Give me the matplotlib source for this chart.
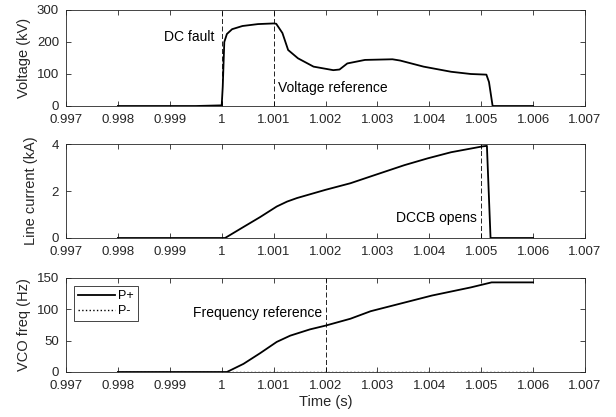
import numpy as np
import matplotlib.pyplot as plt

plt.rcParams['font.family'] = ['Liberation Sans', 'DejaVu Sans']
plt.rcParams['font.size'] = 9.5

# Voltage (kV)
t_v = [0.998, 0.9995, 1.0, 1.00002, 1.00005, 1.0001, 1.0002, 1.0004, 1.0007, 1.001, 1.00105,
       1.0011, 1.00117, 1.00128, 1.00147, 1.00177, 1.00215, 1.00227, 1.00242, 1.00276,
       1.00329, 1.00344, 1.00389, 1.00442, 1.0048, 1.0051, 1.00515, 1.00522, 1.006]
v = [0, 0, 2, 60, 200, 225, 240, 250, 256, 258, 257,
     245, 228, 175, 149, 123, 112, 114, 133, 144,
     146, 142, 123, 107, 100, 98, 75, 0, 0]

# Line current (kA)
t_i = [0.998, 0.9995, 1.000065, 1.00042, 1.00074, 1.00106, 1.00126, 1.00145, 1.002, 1.00248,
       1.00287, 1.00352, 1.00397, 1.00442, 1.00503, 1.00511, 1.00518, 1.006]
i_line = [0, 0, 0, 0.47, 0.89, 1.34, 1.55, 1.70, 2.05, 2.33,
          2.62, 3.1, 3.39, 3.65, 3.9, 3.92, 0, 0]

# VCO frequency (Hz)
t_f = [0.998, 1.0001, 1.00042, 1.00074, 1.00106, 1.00132, 1.0017, 1.002, 1.00248, 1.00287,
       1.00405, 1.0048, 1.0052, 1.006]
f_pos = [0, 0, 13, 30, 48, 58, 68, 74, 85, 97, 122, 135, 143, 143]
t_neg = [0.998, 1.006]
f_neg = [0, 0]

xticks = [0.997, 0.998, 0.999, 1.0, 1.001, 1.002, 1.003, 1.004, 1.005, 1.006, 1.007]
xticklabels = ['0.997', '0.998', '0.999', '1', '1.001', '1.002', '1.003', '1.004', '1.005', '1.006', '1.007']

gray = '#262626'
fig = plt.figure(figsize=(6.16, 4.17), dpi=100)
L, W = 66 / 616, (585 - 66) / 616
ax1 = fig.add_axes([L, 1 - 106 / 417, W, 96 / 417])
ax2 = fig.add_axes([L, 1 - 238 / 417, W, 94 / 417])
ax3 = fig.add_axes([L, 1 - 372 / 417, W, 94 / 417])

for ax in (ax1, ax2, ax3):
    ax.set_xlim(0.997, 1.007)
    ax.set_xticks(xticks)
    ax.set_xticklabels(xticklabels)
    ax.tick_params(direction='in', top=True, right=True, length=3.5, width=0.6,
                   colors=gray, labelsize=9.5)
    ax.tick_params(axis='x', pad=6)
    ax.tick_params(axis='y', pad=5)
    for s in ax.spines.values():
        s.set_color(gray)
        s.set_linewidth(0.6)

dash = (0, (6, 3))
ax1.plot(t_v, v, color='k', lw=1.3)
ax1.set_ylim(0, 300)
ax1.set_yticks([0, 100, 200, 300])
ax1.axvline(1.0, color='k', ls=dash, lw=0.6)
ax1.axvline(1.001, color='k', ls=dash, lw=0.6)
ax1.text(0.99985, 216, 'DC fault', ha='right', va='center', fontsize=10)
ax1.text(1.00108, 55, 'Voltage reference', ha='left', va='center', fontsize=10)
ax1.set_ylabel('Voltage (kV)', color=gray, fontsize=10.5, labelpad=4)

ax2.plot(t_i, i_line, color='k', lw=1.3)
ax2.set_ylim(0, 4)
ax2.set_yticks([0, 2, 4])
ax2.axvline(1.005, color='k', ls=dash, lw=0.6)
ax2.text(1.00492, 0.85, 'DCCB opens', ha='right', va='center', fontsize=10)
ax2.set_ylabel('Line current (kA)', color=gray, fontsize=10.5, labelpad=10)

ax3.plot(t_f, f_pos, color='k', lw=1.3, label='P+')
ax3.plot(t_neg, f_neg, color='k', lw=1.0, ls=':', label='P-')
ax3.set_ylim(0, 150)
ax3.set_yticks([0, 50, 100, 150])
ax3.axvline(1.002, color='k', ls=dash, lw=0.6)
ax3.text(1.00193, 94, 'Frequency reference', ha='right', va='center', fontsize=10)
ax3.set_ylabel('VCO freq (Hz)', color=gray, fontsize=10.5, labelpad=4)
ax3.set_xlabel('Time (s)', color=gray, fontsize=10.5, labelpad=2)
leg = ax3.legend(loc='upper left', fancybox=False, edgecolor=gray, framealpha=1,
                 handlelength=3.0, handletextpad=0.2, borderpad=0.35, labelspacing=0.25,
                 fontsize=9, bbox_to_anchor=(0.0, 1.0), borderaxespad=0.6)
leg.get_frame().set_linewidth(0.6)

fig.savefig('out.png', dpi=100)
